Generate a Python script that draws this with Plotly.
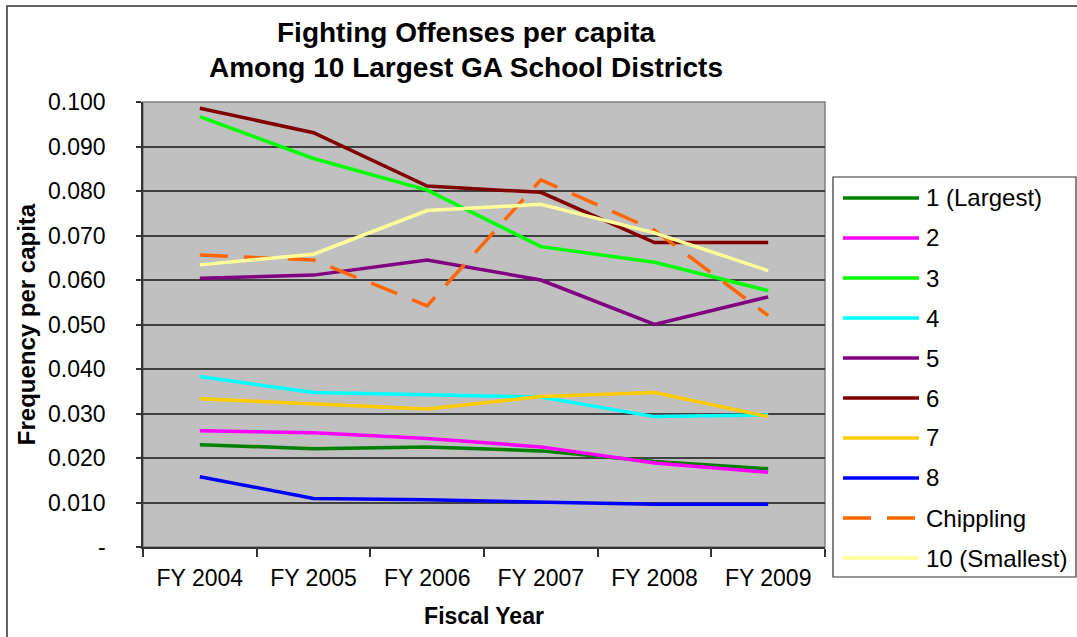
import plotly.graph_objects as go

years = ["FY 2004", "FY 2005", "FY 2006", "FY 2007", "FY 2008", "FY 2009"]

s1_largest = [0.0230, 0.0221, 0.0225, 0.0216, 0.0192, 0.0176]
s2 = [0.0261, 0.0257, 0.0244, 0.0225, 0.0189, 0.0168]
s3 = [0.0967, 0.0873, 0.0802, 0.0675, 0.0640, 0.0576]
s4 = [0.0383, 0.0347, 0.0342, 0.0337, 0.0293, 0.0297]
s5 = [0.0604, 0.0611, 0.0645, 0.0600, 0.0500, 0.0562]
s6 = [0.0986, 0.0931, 0.0811, 0.0797, 0.0684, 0.0684]
s7 = [0.0333, 0.0321, 0.0310, 0.0338, 0.0347, 0.0293]
s8 = [0.0158, 0.0109, 0.0106, 0.0101, 0.0096, 0.0096]
chippling = [0.0656, 0.0645, 0.0542, 0.0825, 0.0712, 0.0520]
s10_smallest = [0.0634, 0.0658, 0.0756, 0.0770, 0.0706, 0.0621]

names = ["1 (Largest)", "2", "3", "4", "5", "6", "7", "8", "Chippling", "10 (Smallest)"]
series = [s1_largest, s2, s3, s4, s5, s6, s7, s8, chippling, s10_smallest]
colors = ["#008000", "#FF00FF", "#00FF00", "#00FFFF", "#800080",
          "#800000", "#FFCC00", "#0000FF", "#FF6600", "#FFFF99"]
dashes = ["solid"] * 8 + ["28px,16px", "solid"]

ytickvals = [0, 0.01, 0.02, 0.03, 0.04, 0.05, 0.06, 0.07, 0.08, 0.09, 0.10]
yticktext = ["-", "0.010", "0.020", "0.030", "0.040", "0.050", "0.060",
             "0.070", "0.080", "0.090", "0.100"]

title_lines = ["Fighting Offenses per capita", "Among 10 Largest GA School Districts"]

FONT = "Arial, Liberation Sans, sans-serif"

fig = go.Figure()
for n, v, c, d in zip(names, series, colors, dashes):
    fig.add_trace(go.Scatter(x=years, y=v, name=n, mode="lines",
                             line=dict(color=c, width=3.5, dash=d),
                             showlegend=False))

# plot geometry (pixels)
L, R, T, B = 143, 825, 102, 547
W, H = 1077, 637
def px(x):
    return (x - L) / (R - L)
def py(y):
    return (B - y) / (B - T)

shapes = []
annotations = []
# outer chart border
shapes.append(dict(type="rect", xref="paper", yref="paper",
                   x0=px(7), x1=px(1090), y0=py(6), y1=py(650),
                   line=dict(color="#333333", width=1.5), layer="below"))
# plot area border (gray)
shapes.append(dict(type="rect", xref="paper", yref="paper",
                   x0=0, x1=1, y0=0, y1=1,
                   line=dict(color="#808080", width=1.5), layer="below"))
# legend box
shapes.append(dict(type="rect", xref="paper", yref="paper",
                   x0=px(833), x1=px(1076), y0=py(177), y1=py(577),
                   line=dict(color="#333333", width=1.2), fillcolor="white"))
for i, (n, c, d) in enumerate(zip(names, colors, dashes)):
    yy = 198 + 40 * i
    shapes.append(dict(type="line", xref="paper", yref="paper",
                       x0=px(843), x1=px(919), y0=py(yy), y1=py(yy),
                       line=dict(color=c, width=3.5, dash=d)))
    annotations.append(dict(text=n, xref="paper", yref="paper",
                            x=px(924), y=py(yy), xanchor="left", yanchor="middle",
                            showarrow=False, font=dict(size=24, color="black", family=FONT)))

# title lines
for t, yy in zip(title_lines, [33, 68]):
    annotations.append(dict(text="<b>" + t + "</b>", xref="paper", yref="paper",
                            x=px(466), y=py(yy), xanchor="center", yanchor="middle",
                            showarrow=False, font=dict(size=28, color="black", family=FONT)))

fig.update_layout(
    width=W, height=H,
    margin=dict(l=L, r=W - R, t=T, b=H - B),
    paper_bgcolor="white",
    plot_bgcolor="#C0C0C0",
    font=dict(family=FONT, size=23, color="black"),
    shapes=shapes,
    annotations=annotations,
    showlegend=False,
)
fig.update_xaxes(
    type="category", range=[-0.5, 5.5],
    showgrid=False, tickson="boundaries", ticks="outside", ticklen=8,
    tickcolor="#333333", tickwidth=1.5,
    showline=True, linecolor="#333333", linewidth=1.5,
    tickfont=dict(size=23), ticklabelstandoff=10,
    title=dict(text="<b>Fiscal Year</b>", font=dict(size=23), standoff=18),
)
fig.update_yaxes(
    range=[0, 0.1], tickvals=ytickvals, ticktext=yticktext,
    showgrid=True, gridcolor="#404040", gridwidth=1.5,
    ticks="outside", ticklen=5, tickcolor="#333333", tickwidth=1.5,
    showline=True, linecolor="#333333", linewidth=1.5,
    tickfont=dict(size=23), ticklabelstandoff=26,
    zeroline=False,
    title=dict(text="<b>Frequency per capita</b>", font=dict(size=24), standoff=6),
)

fig.write_html("out.html")
